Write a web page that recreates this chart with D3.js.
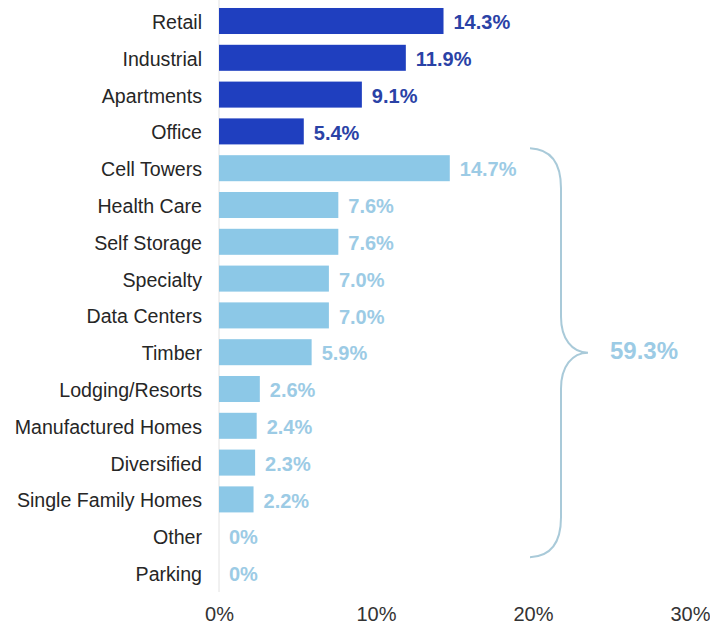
<!DOCTYPE html>
<html>
<head>
<meta charset="utf-8">
<script src="https://cdn.jsdelivr.net/npm/d3@7"></script>
<style>
  html, body { margin: 0; padding: 0; background: #fff; }
  svg { display: block; font-family: "Liberation Sans", Arial, sans-serif; }
</style>
</head>
<body>
<svg id="chart" width="710" height="626"></svg>
<script>
// REIT property sectors and their share (%)
const sectors = ["Retail", "Industrial", "Apartments", "Office", "Cell Towers", "Health Care",
  "Self Storage", "Specialty", "Data Centers", "Timber", "Lodging/Resorts",
  "Manufactured Homes", "Diversified", "Single Family Homes", "Other", "Parking"];
const shares = [14.3, 11.9, 9.1, 5.4, 14.7, 7.6, 7.6, 7.0, 7.0, 5.9, 2.6, 2.4, 2.3, 2.2, 0, 0];
// Traditional sectors are drawn dark; the rest are grouped under the brace
const traditional = ["Retail", "Industrial", "Apartments", "Office"];
const bracedFrom = "Cell Towers";
const bracedTo = "Other";
const xTicks = [0, 10, 20, 30];

const rows = sectors.map((s, i) => ({ sector: s, value: shares[i], core: traditional.includes(s) }));

const svg = d3.select("#chart");

const x = d3.scaleLinear().domain([0, 30]).range([219, 690]);
const y = d3.scaleBand().domain(sectors).range([2.6, 2.6 + 16 * 36.8])
  .paddingInner(0.293).paddingOuter(0.1465);

const darkBar = "#1f3fbf", darkText = "#2a42a6";
const lightBar = "#8cc8e7", lightText = "#9ccbe5";
const fmt = v => v === 0 ? "0%" : v.toFixed(1) + "%";

// baseline at zero
svg.append("line")
  .attr("x1", x(0)).attr("x2", x(0))
  .attr("y1", 0).attr("y2", 592)
  .attr("stroke", "#e2e2e2").attr("stroke-width", 1);

// bars
svg.append("g").selectAll("rect").data(rows).join("rect")
  .attr("x", x(0))
  .attr("y", d => y(d.sector))
  .attr("width", d => x(d.value) - x(0))
  .attr("height", y.bandwidth())
  .attr("fill", d => d.core ? darkBar : lightBar);

// value labels
svg.append("g").selectAll("text").data(rows).join("text")
  .attr("x", d => x(d.value) + 10)
  .attr("y", d => y(d.sector) + y.bandwidth() / 2 + 1)
  .attr("dy", "0.36em")
  .attr("font-size", 20)
  .attr("font-weight", "bold")
  .attr("fill", d => d.core ? darkText : lightText)
  .text(d => fmt(d.value));

// category labels
svg.append("g").selectAll("text").data(rows).join("text")
  .attr("x", 202)
  .attr("y", d => y(d.sector) + y.bandwidth() / 2 + 1)
  .attr("dy", "0.36em")
  .attr("text-anchor", "end")
  .attr("font-size", 19.6)
  .attr("fill", "#262626")
  .text(d => d.sector);

// x axis
const axis = svg.append("g")
  .attr("transform", "translate(0,607)")
  .call(d3.axisBottom(x).tickValues(xTicks).tickFormat(d => d + "%").tickSize(0).tickPadding(0));
axis.select(".domain").remove();
axis.selectAll("text")
  .attr("font-size", 20)
  .attr("font-family", "Liberation Sans, Arial, sans-serif")
  .attr("fill", "#333");

// brace around the non-traditional sectors
const yTop = y(bracedFrom) - 7;
const yBot = y(bracedTo) + y.bandwidth() + 8;
const yMid = (yTop + yBot) / 2;
const bx0 = 530, bx1 = 561, bxt = 588;
const brace = d3.path();
brace.moveTo(bx0, yTop);
brace.bezierCurveTo(552, yTop + 1, bx1, yTop + 16, bx1, yTop + 40);
brace.lineTo(bx1, yMid - 36);
brace.bezierCurveTo(bx1, yMid - 14, 572, yMid, bxt, yMid);
brace.bezierCurveTo(572, yMid, bx1, yMid + 14, bx1, yMid + 36);
brace.lineTo(bx1, yBot - 40);
brace.bezierCurveTo(bx1, yBot - 16, 552, yBot - 1, bx0, yBot);
svg.append("path")
  .attr("d", brace.toString())
  .attr("fill", "none")
  .attr("stroke", "#a9cad9")
  .attr("stroke-width", 2);

const total = d3.sum(rows.filter(d => !d.core), d => d.value);
svg.append("text")
  .attr("x", 610)
  .attr("y", yMid - 2)
  .attr("dy", "0.36em")
  .attr("font-size", 24)
  .attr("font-weight", "bold")
  .attr("fill", lightText)
  .text(total.toFixed(1) + "%");
</script>
</body>
</html>
